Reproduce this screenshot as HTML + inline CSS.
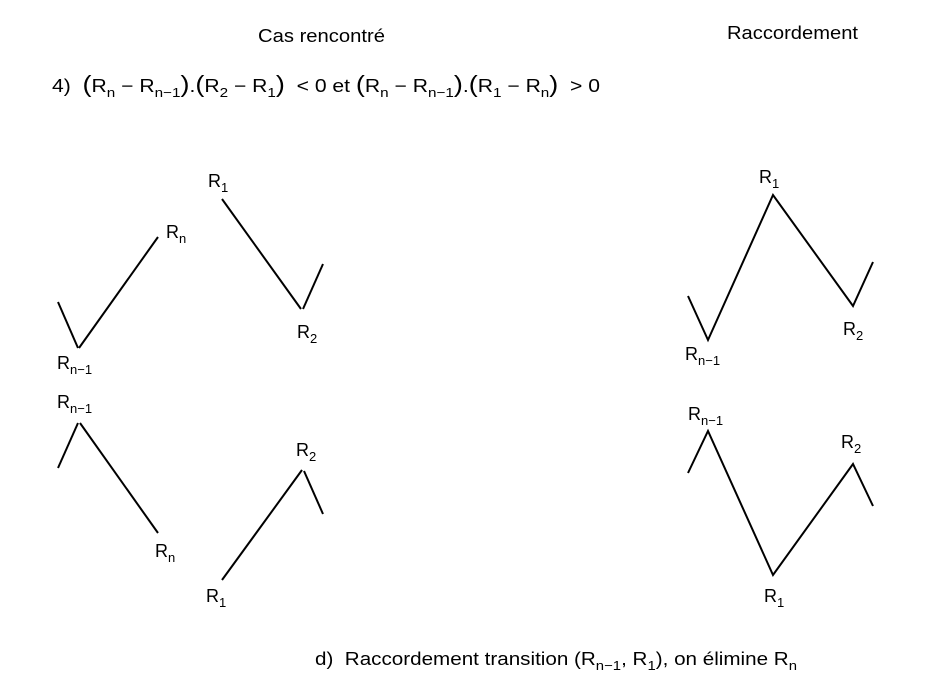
<!DOCTYPE html>
<html><head><meta charset="utf-8"><style>
html,body{margin:0;padding:0;background:#fff;}
svg{display:block;}
text{font-family:"Liberation Sans",sans-serif;font-size:18px;fill:#000;white-space:pre;}
.s{font-size:13px;}
</style></head><body>
<svg width="935" height="685" viewBox="0 0 935 685" xmlns="http://www.w3.org/2000/svg" xml:space="preserve">
<text x="258" y="42" textLength="127" lengthAdjust="spacingAndGlyphs">Cas rencontré</text>
<text x="727" y="39" textLength="131" lengthAdjust="spacingAndGlyphs">Raccordement</text>

<text x="52" y="92" textLength="548" lengthAdjust="spacingAndGlyphs">4)  <tspan font-size="23">(</tspan>R<tspan class="s" dy="5">n</tspan><tspan dy="-5"> − R</tspan><tspan class="s" dy="5">n−1</tspan><tspan dy="-5" font-size="23">)</tspan>.<tspan font-size="23">(</tspan>R<tspan class="s" dy="5">2</tspan><tspan dy="-5"> − R</tspan><tspan class="s" dy="5">1</tspan><tspan dy="-5" font-size="23">)</tspan>  &lt; 0 et <tspan font-size="23">(</tspan>R<tspan class="s" dy="5">n</tspan><tspan dy="-5"> − R</tspan><tspan class="s" dy="5">n−1</tspan><tspan dy="-5" font-size="23">)</tspan>.<tspan font-size="23">(</tspan>R<tspan class="s" dy="5">1</tspan><tspan dy="-5"> − R</tspan><tspan class="s" dy="5">n</tspan><tspan dy="-5" font-size="23">)</tspan>  &gt; 0</text>

<g stroke="#000" stroke-width="2" fill="none">
<polyline points="58,302 78,348"/>
<polyline points="79,348 158,237"/>
<polyline points="222,199 301,309"/>
<polyline points="303,309 323,264"/>
<polyline points="58,468 78,423"/>
<polyline points="80,423 158,533"/>
<polyline points="222,580 302,470"/>
<polyline points="304,471 323,514"/>
<polyline points="688,296 708,340 773,195 853,306 873,262"/>
<polyline points="688,473 708,431 773,575 853,464 873,506"/>
</g>

<text x="208" y="187">R<tspan class="s" dy="5">1</tspan></text>
<text x="166" y="238">R<tspan class="s" dy="5">n</tspan></text>
<text x="57" y="369">R<tspan class="s" dy="5">n−1</tspan></text>
<text x="297" y="338">R<tspan class="s" dy="5">2</tspan></text>
<text x="57" y="408">R<tspan class="s" dy="5">n−1</tspan></text>
<text x="296" y="456">R<tspan class="s" dy="5">2</tspan></text>
<text x="155" y="557">R<tspan class="s" dy="5">n</tspan></text>
<text x="206" y="602">R<tspan class="s" dy="5">1</tspan></text>

<text x="759" y="183">R<tspan class="s" dy="5">1</tspan></text>
<text x="685" y="360">R<tspan class="s" dy="5">n−1</tspan></text>
<text x="843" y="335">R<tspan class="s" dy="5">2</tspan></text>
<text x="688" y="420">R<tspan class="s" dy="5">n−1</tspan></text>
<text x="841" y="448">R<tspan class="s" dy="5">2</tspan></text>
<text x="764" y="602">R<tspan class="s" dy="5">1</tspan></text>

<text x="315" y="665" textLength="482" lengthAdjust="spacingAndGlyphs">d)  Raccordement transition (R<tspan class="s" dy="5">n−1</tspan><tspan dy="-5">, R</tspan><tspan class="s" dy="5">1</tspan><tspan dy="-5">), on élimine R</tspan><tspan class="s" dy="5">n</tspan></text>
</svg>
</body></html>
